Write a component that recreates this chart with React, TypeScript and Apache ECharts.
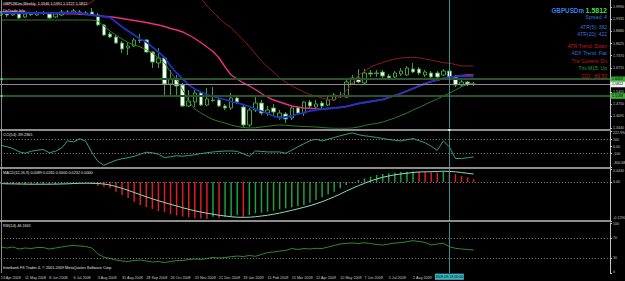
import React, { useEffect, useRef } from 'react';
import * as echarts from 'echarts';

const FONT = '"Liberation Sans", Arial, sans-serif';
const SLOTS = 101;

const tickLabels = ['13 Apr 2008', '11 May 2008', '8 Jun 2008', '6 Jul 2008', '3 Aug 2008', '31 Aug 2008', '28 Sep 2008', '26 Oct 2008', '23 Nov 2008', '21 Dec 2008', '18 Jan 2009', '15 Feb 2009', '15 Mar 2009', '12 Apr 2009', '10 May 2009', '7 Jun 2009', '5 Jul 2009', '2 Aug 2009', '30 Aug 2009', '27 Sep 2009'];

// [open, close, low, high]
const candles = [
  [1.9573, 1.9681, 1.9519, 1.9790], [1.9681, 1.9573, 1.9465, 1.9735], [1.9573, 1.9627, 1.9519, 1.9735], [1.9627, 1.9411, 1.9357, 1.9681],
  [1.9465, 1.9627, 1.9411, 1.9735], [1.9627, 1.9600, 1.9519, 1.9735], [1.9573, 1.9681, 1.9519, 1.9790], [1.9681, 1.9654, 1.9573, 1.9790],
  [1.9627, 1.9411, 1.9357, 1.9681], [1.9465, 1.9627, 1.9411, 1.9735], [1.9573, 1.9735, 1.9519, 1.9844], [1.9735, 1.9708, 1.9627, 1.9844],
  [1.9681, 1.9790, 1.9627, 1.9898], [1.9735, 1.9627, 1.9573, 1.9844], [1.9681, 1.9627, 1.9573, 1.9790], [1.9735, 1.9573, 1.9519, 1.9952],
  [1.9573, 1.9032, 1.8978, 1.9681], [1.9032, 1.8490, 1.8436, 1.9086], [1.8545, 1.8382, 1.8328, 1.8653], [1.8382, 1.8057, 1.8003, 1.8490],
  [1.8057, 1.7733, 1.7516, 1.8166], [1.7787, 1.7895, 1.7408, 1.8112], [1.7895, 1.8220, 1.7841, 1.8328], [1.8220, 1.8193, 1.8057, 1.8545],
  [1.8220, 1.7570, 1.7516, 1.8274], [1.7570, 1.7029, 1.6704, 1.7624], [1.6975, 1.7245, 1.6704, 1.7787], [1.7245, 1.5838, 1.5243, 1.7300],
  [1.5838, 1.6109, 1.5243, 1.6596], [1.6109, 1.5730, 1.5189, 1.6325], [1.5784, 1.4647, 1.4593, 1.5892], [1.4647, 1.4918, 1.4593, 1.5513],
  [1.4864, 1.5351, 1.4593, 1.5513], [1.5351, 1.4701, 1.4647, 1.5459], [1.4701, 1.5026, 1.4647, 1.5622], [1.4972, 1.4945, 1.4864, 1.5676],
  [1.4972, 1.4647, 1.4593, 1.5080], [1.4647, 1.4539, 1.4431, 1.4755], [1.4539, 1.5080, 1.4431, 1.5351], [1.5080, 1.4864, 1.4755, 1.5189],
  [1.4593, 1.3619, 1.3510, 1.4701], [1.3619, 1.4431, 1.3510, 1.4539], [1.4431, 1.4810, 1.4322, 1.5243], [1.4810, 1.4268, 1.4160, 1.4972],
  [1.4268, 1.4431, 1.4106, 1.4647], [1.4539, 1.4322, 1.4106, 1.4755], [1.4052, 1.4268, 1.3889, 1.4431], [1.4214, 1.3944, 1.3727, 1.4322],
  [1.3998, 1.4539, 1.3889, 1.4701], [1.4539, 1.4268, 1.4214, 1.4647], [1.4268, 1.4864, 1.4106, 1.4918], [1.4864, 1.4647, 1.4539, 1.4972],
  [1.4593, 1.4755, 1.4539, 1.4972], [1.4810, 1.4647, 1.4431, 1.4918], [1.4701, 1.4972, 1.4647, 1.5134], [1.4972, 1.5243, 1.4918, 1.5351],
  [1.5189, 1.5162, 1.5080, 1.5405], [1.5134, 1.5946, 1.5080, 1.6055], [1.5838, 1.6163, 1.5784, 1.6325], [1.6163, 1.5946, 1.5892, 1.6650],
  [1.5892, 1.6434, 1.5838, 1.6650], [1.6434, 1.6379, 1.6217, 1.6596], [1.6434, 1.6406, 1.6217, 1.6596], [1.6488, 1.6271, 1.6163, 1.6596],
  [1.6271, 1.6163, 1.6055, 1.6379], [1.6217, 1.6434, 1.6109, 1.6542], [1.6379, 1.6542, 1.6271, 1.6704], [1.6325, 1.6704, 1.6271, 1.6812],
  [1.6650, 1.6488, 1.6434, 1.6975], [1.6650, 1.6434, 1.6325, 1.6758], [1.6325, 1.6488, 1.6217, 1.6596], [1.6434, 1.6217, 1.6163, 1.6542],
  [1.6434, 1.6217, 1.6109, 1.6542], [1.6325, 1.6542, 1.6271, 1.6650], [1.6542, 1.6217, 1.6109, 1.6650], [1.6217, 1.5784, 1.5676, 1.6325],
  [1.5784, 1.5946, 1.5676, 1.6055], [1.5946, 1.5838, 1.5730, 1.6000], [1.5838, 1.5812, 1.5730, 1.5946],
];

const fastMA = [1.9681, 1.9681, 1.9681, 1.9681, 1.9681, 1.9681, 1.9681, 1.9681, 1.9681, 1.9681, 1.9681, 1.9681, 1.9681, 1.9681,
  1.9627, 1.9573, 1.9519, 1.9481, 1.9438, 1.9194, 1.8923, 1.8707, 1.8490, 1.8274, 1.8112, 1.7841, 1.7570, 1.7273, 1.6812, 1.6434,
  1.6109, 1.5784, 1.5567, 1.5405, 1.5270, 1.5162, 1.5080, 1.4999, 1.4880, 1.4810, 1.4728, 1.4620, 1.4485, 1.4377, 1.4241, 1.4106,
  1.3998, 1.4052, 1.4106, 1.4214, 1.4295, 1.4377, 1.4431, 1.4485, 1.4512, 1.4539, 1.4577, 1.4620, 1.4701, 1.4783, 1.4837, 1.4891,
  1.4945, 1.4999, 1.5107, 1.5216, 1.5324, 1.5459, 1.5594, 1.5730, 1.5865, 1.5963, 1.6055, 1.6136, 1.6201, 1.6244, 1.6271, 1.6255, 1.6233];

// the slow average runs under the fast one from April 2009 on, showing again only at the last bars
const slowMA = [1.9735, 1.9735, 1.9735, 1.9735, 1.9719, 1.9708, 1.9698, 1.9687, 1.9676, 1.9665,
  1.9654, 1.9643, 1.9633, 1.9622, 1.9600, 1.9573, 1.9541, 1.9508, 1.9481, 1.9438,
  1.9384, 1.9329, 1.9275, 1.9221, 1.9167, 1.9097, 1.9032, 1.8951, 1.8842, 1.8761,
  1.8653, 1.8490, 1.8301, 1.8084, 1.7841, 1.7597, 1.7245, 1.6758, 1.6325, 1.6109,
  1.5892, 1.5730, 1.5540, 1.5324, 1.5134, 1.4972, 1.4864, 1.4755, 1.4647, 1.4593,
  1.4539, 1.4523, 1.4490, 1.4485, 1.4512, 1.4539, 1.4577, 1.4620, 1.4701, 1.4783,
  1.4837, 1.4891, 1.4945, 1.4999, 1.5107, 1.5216, 1.5324, 1.5459, 1.5594, 1.5730,
  1.5865, 1.5963, 1.6055, 1.6136, 1.6201, 1.6260, 1.6298, 1.6325, 1.6330];

const upperBand = [2.0114, 2.0114, 2.0114, 2.0114, 2.0114, 2.0114, 2.0114, 2.0114, 2.0114, 2.0114, 2.0114, 2.0114, 2.0114, 2.0114, 2.0114,
  2.0277, 2.0547, 2.0926, 2.1305, 2.1630, 2.1901, 2.2117, 2.2280, 2.2388, 2.2442, 2.2388, 2.2280, 2.2117, 2.1901, 2.1630,
  2.1359, 2.1035, 2.0764, 2.0493, 2.0060, 1.9735, 1.9411, 1.9113, 1.8896, 1.8545, 1.8220, 1.7868, 1.7462, 1.7083, 1.6758,
  1.6488, 1.6163, 1.5946, 1.5730, 1.5567, 1.5405, 1.5270, 1.5189, 1.5080, 1.4999, 1.4972, 1.5189, 1.5459, 1.5892, 1.6325,
  1.6515, 1.6758, 1.6894, 1.7002, 1.7110, 1.7191, 1.7245, 1.7273, 1.7283, 1.7256, 1.7191, 1.7137, 1.7056, 1.7002, 1.6959,
  1.6894, 1.6812, 1.6812, 1.6812];

const lowerBand = [1.9302, 1.9302, 1.9302, 1.9302, 1.9302, 1.9302, 1.9302, 1.9302, 1.9302, 1.9302, 1.9302, 1.9302, 1.9302, 1.9302, 1.9302, 1.9302,
  1.9248, 1.8978, 1.8707, 1.8490, 1.8274, 1.8084, 1.7949, 1.7841, 1.7706, 1.7516, 1.7245, 1.6975, 1.6488, 1.6055,
  1.5513, 1.4918, 1.4485, 1.4268, 1.4079, 1.3916, 1.3808, 1.3727, 1.3619, 1.3538, 1.3483, 1.3456, 1.3467, 1.3510,
  1.3548, 1.3592, 1.3619, 1.3603, 1.3575, 1.3554, 1.3538, 1.3527, 1.3510, 1.3483, 1.3456, 1.3440, 1.3440, 1.3440,
  1.3456, 1.3510, 1.3592, 1.3657, 1.3700, 1.3781, 1.3889, 1.3998, 1.4133, 1.4268, 1.4431, 1.4566, 1.4728, 1.4880,
  1.5026, 1.5189, 1.5335, 1.5513, 1.5692, 1.5811, 1.5908];

const cci = [18.7, -2.9, -28.7, -74.6, -96.1, -67.4, -53.1, -43.1, -89.0, -67.4,
  -24.4, 80.4, 66.0, 111.9, 76.0, -81.8, -211.0, -268.3, -232.5, -196.6,
  -175.1, -160.7, -139.2, -110.5, -81.8, -89.0, -110.5, -157.9, -146.4, -132.0,
  -139.2, -129.2, -117.7, -100.5, -89.0, -77.5, -70.3, -64.6, -63.1, -70.3,
  -103.3, -139.2, -63.1, -70.3, -77.5, -77.5, -77.5, -96.1, -53.1, -5.7,
  40.2, 83.2, 104.8, 80.4, 104.8, 129.2, 155.0, 176.5, 195.2, 169.3,
  155.0, 143.5, 130.6, 114.8, 100.5, 90.4, 80.4, 97.6, 114.8, 83.2,
  54.5, 4.3, -53.1, 80.4, -5.7, -172.2, -172.2, -160.7, -149.2];

const macdHist = [-0.0050, -0.0073, -0.0066, -0.0083, -0.0073, -0.0086, -0.0076, -0.0066, -0.0079, -0.0070,
  -0.0053, -0.0036, -0.0026, -0.0020, -0.0030, -0.0066, -0.0132, -0.0156, -0.0199, -0.0321,
  -0.0430, -0.0530, -0.0652, -0.0761, -0.0828, -0.0894, -0.0960, -0.0993, -0.1059, -0.1109,
  -0.1142, -0.1168, -0.1202, -0.1208, -0.1215, -0.1149, -0.1192, -0.1149, -0.1142, -0.1092,
  -0.1149, -0.1092, -0.1036, -0.1016, -0.0983, -0.0950, -0.0904, -0.0871, -0.0837, -0.0794,
  -0.0761, -0.0685, -0.0596, -0.0506, -0.0407, -0.0321, -0.0209, -0.0099, -0.0043, 0.0066,
  0.0122, 0.0175, 0.0232, 0.0265, 0.0288, 0.0308, 0.0331, 0.0338, 0.0348, 0.0341,
  0.0331, 0.0321, 0.0314, 0.0338, 0.0324, 0.0255, 0.0199, 0.0156, 0.0089];

const macdSignal = [-0.0053, -0.0060, -0.0063, -0.0066, -0.0070, -0.0073, -0.0073, -0.0073, -0.0073, -0.0070,
  -0.0066, -0.0060, -0.0050, -0.0043, -0.0040, -0.0043, -0.0050, -0.0066, -0.0099, -0.0149,
  -0.0209, -0.0275, -0.0348, -0.0420, -0.0490, -0.0556, -0.0619, -0.0679, -0.0738, -0.0794,
  -0.0851, -0.0904, -0.0953, -0.0993, -0.1033, -0.1066, -0.1099, -0.1125, -0.1149, -0.1165,
  -0.1168, -0.1165, -0.1149, -0.1125, -0.1099, -0.1066, -0.1026, -0.0983, -0.0937, -0.0887,
  -0.0837, -0.0784, -0.0722, -0.0652, -0.0573, -0.0490, -0.0397, -0.0298, -0.0209, -0.0122,
  -0.0043, 0.0033, 0.0099, 0.0156, 0.0199, 0.0238, 0.0265, 0.0291, 0.0314, 0.0331,
  0.0338, 0.0341, 0.0348, 0.0357, 0.0348, 0.0338, 0.0314, 0.0288, 0.0265];

const rsi = [52, 50, 52, 48, 50, 49, 51, 51, 48, 50,
  52, 54, 55, 54, 53, 50, 38, 32, 29, 26,
  24, 23, 25, 26, 24, 22, 23, 21, 23, 25,
  25, 27, 28, 27, 29, 31, 30, 31, 32.6, 34,
  33, 35, 33.4, 37, 41, 42, 44, 45, 49, 47,
  49, 48, 49.4, 49, 52, 55, 58, 59.4, 60, 59,
  60.6, 59, 57, 56, 58, 60, 60.6, 62.6, 64.6, 63,
  61, 56, 58, 59.4, 52.6, 49.4, 48, 47, 46];

const levelLines = [1.6092, 1.5188];
const bidPrice = 1.5812;
const crossBar = 74;
const crossLabel = '2009.09.13 00:00';

const priceTicks = [1.3440, 1.4095, 1.4750, 1.5405, 1.6060, 1.6715, 1.7370, 1.8025, 1.8680, 1.9335, 1.9990];
const cciTicks = [222.994, 100, 0, -100, -300.68];
const cciLevels = [100, -100];
const macdTicks = [0.0430, 0, -0.1290];
const rsiTicks = [100, 70, 30, 0];
const rsiLevels = [70, 30];

const infoLines = [
  { text: 'Spread: 4', color: '#3f6fd8', y: 16.7 },
  { text: 'ATR(5): 382', color: '#3f6fd8', y: 26.7 },
  { text: 'ATR(20): 422', color: '#3f6fd8', y: 34 },
  { text: 'ATR Trend: Down', color: '#c81e1e', y: 45.7 },
  { text: 'ADX Trend: Flat', color: '#3f6fd8', y: 53.3 },
  { text: 'Trix Current: Dn', color: '#c81e1e', y: 61 },
  { text: 'Trix M15: Up', color: '#2fa02f', y: 68.3 },
  { text: 'CCI: -89.50', color: '#c81e1e', y: 76 },
];

const AXIS_COLOR = '#c4c4c4';
const LABEL_COLOR = '#c8c8c8';

export default function App() {
  const ref = useRef<HTMLDivElement>(null);

  useEffect(() => {
    if (!ref.current) return;
    const chart = echarts.init(ref.current, null, { renderer: 'svg' });
    const cats = Array.from({ length: SLOTS }, (_, i) => String(i));

    const gridBase = { left: -2.2, right: 15, outerBoundsMode: 'none', containLabel: false };
    const grids = [
      { ...gridBase, top: 0, height: 128.3 },
      { ...gridBase, top: 131, height: 36.5 },
      { ...gridBase, top: 169, height: 52 },
      { ...gridBase, top: 223, height: 50 },
    ];

    const xAxis = grids.map((_, i) => ({
      type: 'category',
      gridIndex: i,
      data: cats,
      boundaryGap: true,
      axisLine: { show: false },
      axisTick: { show: false },
      splitLine: { show: false },
      axisLabel: i === 3 ? {
        show: true,
        interval: 0,
        fontSize: 3.7,
        color: LABEL_COLOR,
        align: 'left',
        margin: 3,
        fontFamily: FONT,
        formatter: (_v: string, idx: number) => {
          if (idx % 4 !== 0 || idx / 4 >= tickLabels.length) return '';
          // the crosshair's date box hides the label underneath it
          if (Math.abs(idx - crossBar) <= 2) return '';
          return tickLabels[idx / 4];
        },
      } : { show: false },
    }));

    const mkY = (i: number, min: number, max: number, ticks: number[], fmt: (v: number) => string, rich?: any) => ({
      type: 'value',
      gridIndex: i,
      position: 'right',
      min,
      max,
      axisLine: { show: true, lineStyle: { color: AXIS_COLOR, width: 1 } },
      axisTick: { show: true, length: 2, customValues: ticks, lineStyle: { color: AXIS_COLOR } },
      splitLine: { show: false },
      axisLabel: {
        customValues: ticks,
        fontSize: 3.6,
        color: LABEL_COLOR,
        margin: 3,
        fontFamily: FONT,
        formatter: fmt,
        rich: rich || {},
      },
    });

    const richShift = {
      d2: { fontSize: 3.6, color: LABEL_COLOR, padding: [2, 0, 0, 0] },
      d4: { fontSize: 3.6, color: LABEL_COLOR, padding: [4.4, 0, 0, 0] },
      u2: { fontSize: 3.6, color: LABEL_COLOR, padding: [0, 0, 2, 0] },
      u6: { fontSize: 3.6, color: LABEL_COLOR, padding: [0, 0, 6, 0] },
      u8: { fontSize: 3.6, color: LABEL_COLOR, padding: [0, 0, 8.4, 0] },
    };

    const yAxis = [
      mkY(0, 1.3440, 2.0385, priceTicks, (v) => v.toFixed(4)),
      mkY(1, -300.68, 222.994, cciTicks, (v) => {
        if (v > 200) return '{d4|222.994}';
        if (v < -200) return '{u8|-300.68}';
        if (v === 0) return '0.00';
        return String(v);
      }, richShift),
      mkY(2, -0.1290, 0.0430, macdTicks, (v) => {
        if (v > 0) return '{d4|' + v.toFixed(4) + '}';
        if (v < 0) return '{u6|' + v.toFixed(4) + '}';
        return '0.00';
      }, richShift),
      mkY(3, 0, 100, rsiTicks, (v) => {
        if (v === 100) return '{d2|100}';
        if (v === 0) return '{u2|0}';
        return String(v);
      }, richShift),
    ];

    const vLine = { xAxis: crossBar, lineStyle: { color: '#3a8e8e', width: 1, type: 'solid' } };
    const dotted = (v: number) => ({ yAxis: v, lineStyle: { color: '#8a8a8a', width: 1, type: [1, 2] } });
    const mk = (data: any[]) => ({ silent: true, symbol: ['none', 'none'], label: { show: false }, emphasis: { disabled: true }, data });

    const lineSeries = (name: string, data: number[], color: string, width: number, gi: number, z = 3) => ({
      name,
      type: 'line',
      xAxisIndex: gi,
      yAxisIndex: gi,
      data,
      showSymbol: false,
      symbol: 'none',
      z,
      lineStyle: { color, width },
      emphasis: { disabled: true },
    });

    const option: any = {
      animation: false,
      backgroundColor: '#000000',
      textStyle: { fontFamily: FONT },
      grid: grids,
      xAxis,
      yAxis,
      series: [
        {
          name: 'GBPUSDm',
          type: 'candlestick',
          xAxisIndex: 0,
          yAxisIndex: 0,
          data: candles,
          barWidth: 4,
          z: 2,
          itemStyle: {
            color: '#000000',
            color0: '#ffffff',
            borderColor: '#3ca03c',
            borderColor0: '#3ca03c',
            borderColorDoji: '#3ca03c',
            borderWidth: 1,
          },
          markLine: mk([
            { yAxis: levelLines[0], lineStyle: { color: '#2c532c', width: 2, type: 'solid' } },
            { yAxis: levelLines[1], lineStyle: { color: '#2c532c', width: 2, type: 'solid' } },
            { yAxis: bidPrice, lineStyle: { color: '#8c8c8c', width: 1, type: 'solid' } },
            vLine,
          ]),
        },
        lineSeries('Upper band', upperBand, '#8e1c1c', 1, 0),
        lineSeries('Lower band', lowerBand, '#2d7a2d', 1, 0),
        lineSeries('Slow MA', slowMA, '#e8307c', 1.4, 0, 3),
        lineSeries('Fast MA', fastMA, '#1f2fc8', 1.8, 0, 4),
        { ...lineSeries('CCI', cci, '#34a080', 1, 1), markLine: mk([...cciLevels.map(dotted), vLine]) },
        {
          name: 'MACD',
          type: 'bar',
          xAxisIndex: 2,
          yAxisIndex: 2,
          barWidth: 1.5,
          data: macdHist.map((v, i) => ({
            value: v,
            itemStyle: { color: i > 0 && v < macdHist[i - 1] ? '#e01e1e' : '#1fa03a' },
          })),
          emphasis: { disabled: true },
          markLine: mk([dotted(0), vLine]),
        },
        lineSeries('Signal', macdSignal, '#86dcc8', 1, 2, 4),
        { ...lineSeries('RSI', rsi, '#2f8a2f', 1, 3), markLine: mk([...rsiLevels.map(dotted), vLine]) },
      ],
    };

    chart.setOption(option);

    const px = (v: number) => chart.convertToPixel({ yAxisIndex: 0 }, v) as number;
    const cx = chart.convertToPixel({ xAxisIndex: 3 }, crossBar) as number;

    const txt = (text: string, x: number, y: number, opts: any = {}) => ({
      type: 'text',
      z: 100,
      silent: true,
      style: {
        text,
        x,
        y,
        fill: opts.fill || '#e0e0e0',
        fontSize: opts.size || 3.8,
        fontFamily: FONT,
        fontWeight: opts.weight || 'normal',
        align: opts.align || 'left',
        verticalAlign: 'middle',
        textAlign: opts.align || 'left',
        textVerticalAlign: 'middle',
      },
    });
    const rect = (x: number, y: number, w: number, h: number, fill: string, z = 90) => ({
      type: 'rect', z, silent: true, shape: { x, y, width: w, height: h }, style: { fill },
    });

    const graphics: any[] = [
      { type: 'line', z: 90, silent: true, shape: { x1: 1.5, y1: 0, x2: 1.5, y2: 273 }, style: { stroke: '#8a8a8a', lineWidth: 1 } },
      rect(0, 129.2, 611, 1.6, '#bdbdbd'),
      rect(0, 167.2, 611, 1.6, '#bdbdbd'),
      rect(0, 220.2, 611, 1.6, '#bdbdbd'),
      rect(cx - 1, 129, 2, 2, '#ffffff', 95),
      txt('GBPUSDm,Weekly  1.5946 1.5991 1.5727 1.5812', 3, 4),
      txt('DeTrade Info', 3, 11),
      txt('CCI(14) -89.2365', 3, 134.5),
      txt('MACD(12,26,9) 0.0089 0.0265 0.0000 0.0232 0.0000', 3, 172.5),
      txt('RSI(14) 46.1661', 3, 225.8),
      txt('Interbank FX Trader 4, \u00a9 2001-2009 MetaQuotes Software Corp.', 3, 268.2),
      txt('1.5812', 607, 10, { fill: '#44dd44', size: 7, weight: 'bold', align: 'right' }),
      txt('GBPUSDm', 584, 10, { fill: '#3f7fe8', size: 6.3, weight: 'bold', align: 'right' }),
      ...infoLines.map((l) => txt(l.text, 607, l.y, { fill: l.color, size: 5, align: 'right' })),
    ];

    levelLines.forEach((v) => {
      const y = px(v);
      graphics.push(rect(0.7, y - 1, 2, 2, '#55ee55', 95));
      graphics.push(rect(610.5, y - 2.8, 14.5, 5.6, '#38b038', 95));
      graphics.push(txt(v.toFixed(4), 612, y, { fill: '#000000', size: 3.6 }));
    });
    const by = px(bidPrice);
    graphics.push(rect(610.5, by - 2.8, 14.5, 5.6, '#f0f0f0', 95));
    graphics.push(txt(bidPrice.toFixed(4), 612, by, { fill: '#000000', size: 3.6 }));

    graphics.push(rect(cx - 14.5, 273.6, 29, 6.2, '#3cb4c4', 95));
    graphics.push(txt(crossLabel, cx, 276.8, { fill: '#000000', size: 3.6, align: 'center' }));

    chart.setOption({ graphic: graphics });

    return () => chart.dispose();
  }, []);

  return (
    <div
      ref={ref}
      style={{ position: 'fixed', left: 0, top: 0, width: 625, height: 281, background: '#000000' }}
    />
  );
}
